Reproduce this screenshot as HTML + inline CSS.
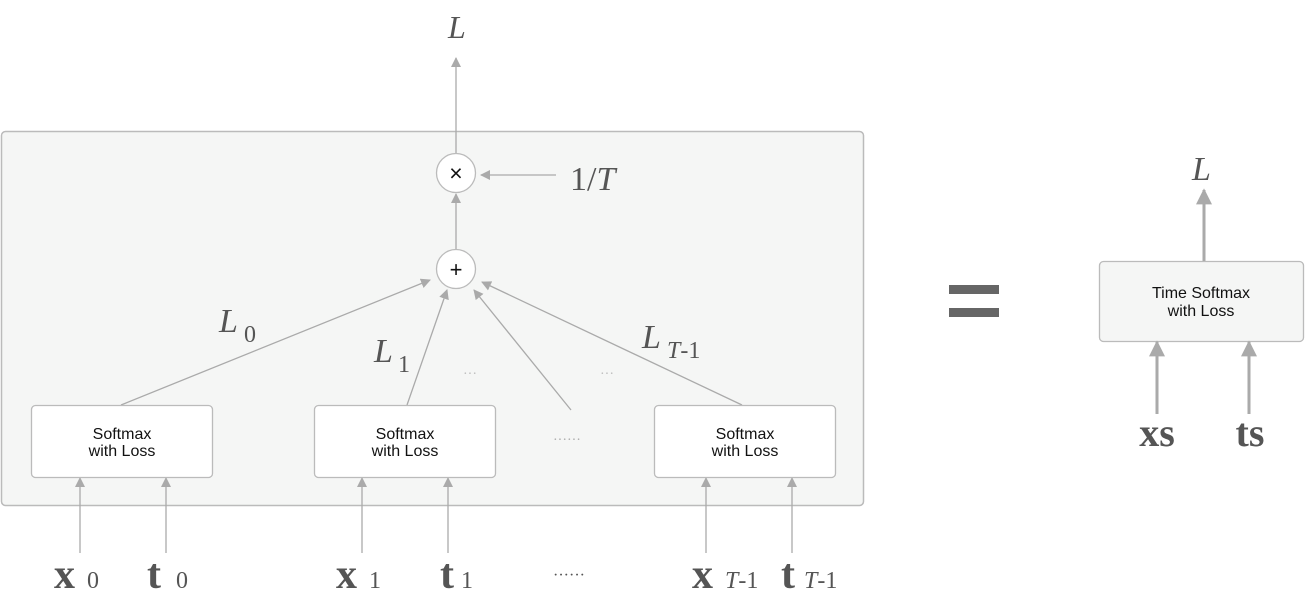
<!DOCTYPE html>
<html><head><style>
body{margin:0;background:#fff;width:1312px;height:598px;overflow:hidden}
svg text{font-family:"Liberation Serif",serif;fill:#555}
.s{font-family:"Liberation Sans",sans-serif;fill:#111;font-size:16px}
</style></head><body>
<svg width="1312" height="598" viewBox="0 0 1312 598">
<defs>
<marker id="a" viewBox="0 0 10 10" refX="9" refY="5" markerWidth="10" markerHeight="10" markerUnits="userSpaceOnUse" orient="auto"><path d="M0,0L10,5L0,10z" fill="#aaa"/></marker>
<marker id="b" viewBox="0 0 10 10" refX="9" refY="5" markerWidth="18" markerHeight="16" markerUnits="userSpaceOnUse" orient="auto"><path d="M0,0L10,5L0,10z" fill="#aaa"/></marker>
</defs>
<rect x="1.5" y="131.5" width="862" height="374" rx="4" fill="#f5f6f5" stroke="#bbb" stroke-width="1.5"/>
<g stroke="#aaa" stroke-width="1.3" fill="none" marker-end="url(#a)">
<line x1="456" y1="154" x2="456" y2="58"/>
<line x1="556" y1="175" x2="481" y2="175"/>
<line x1="456" y1="250" x2="456" y2="194"/>
<line x1="121" y1="405" x2="430" y2="280"/>
<line x1="407" y1="405" x2="447" y2="290"/>
<line x1="571" y1="410" x2="474" y2="290"/>
<line x1="742" y1="405" x2="482" y2="282"/>
<line x1="80" y1="553" x2="80" y2="478"/>
<line x1="166" y1="553" x2="166" y2="478"/>
<line x1="362" y1="553" x2="362" y2="478"/>
<line x1="448" y1="553" x2="448" y2="478"/>
<line x1="706" y1="553" x2="706" y2="478"/>
<line x1="792" y1="553" x2="792" y2="478"/>
</g>
<circle cx="456" cy="173" r="19.5" fill="#fff" stroke="#bbb" stroke-width="1.3"/>
<circle cx="456" cy="269" r="19.5" fill="#fff" stroke="#bbb" stroke-width="1.3"/>
<text x="456" y="181" text-anchor="middle" class="s" style="font-size:23px">×</text>
<text x="456" y="277" text-anchor="middle" class="s" style="font-size:22px">+</text>
<text x="570" y="190" style="font-size:34px">1/<tspan font-style="italic">T</tspan></text>
<text x="448" y="38" font-style="italic" style="font-size:32px">L</text>
<text x="219" y="332" font-style="italic" style="font-size:34px">L</text><text x="244" y="342" style="font-size:24px">0</text>
<text x="374" y="362" font-style="italic" style="font-size:34px">L</text><text x="398" y="372" style="font-size:24px">1</text>
<text x="642" y="348" font-style="italic" style="font-size:34px">L</text><text x="667" y="358" style="font-size:24px"><tspan font-style="italic">T</tspan>-1</text>
<text x="463" y="378" style="font-size:14px;fill:#bbb">···</text>
<text x="600" y="378" style="font-size:14px;fill:#bbb">···</text>
<text x="553" y="444" style="font-size:14px;fill:#aaa">······</text>
<text x="553" y="580" style="font-size:16px;fill:#555">······</text>
<g fill="#fff" stroke="#bbb" stroke-width="1.3">
<rect x="31.5" y="405.5" width="181" height="72" rx="4"/>
<rect x="314.5" y="405.5" width="181" height="72" rx="4"/>
<rect x="654.5" y="405.5" width="181" height="72" rx="4"/>
</g>
<g text-anchor="middle">
<text class="s" x="122" y="439">Softmax</text><text class="s" x="122" y="456">with Loss</text>
<text class="s" x="405" y="439">Softmax</text><text class="s" x="405" y="456">with Loss</text>
<text class="s" x="745" y="439">Softmax</text><text class="s" x="745" y="456">with Loss</text>
</g>
<g font-weight="bold" style="font-size:42px">
<text x="54" y="588">x</text><text x="87" y="588" font-weight="normal" style="font-size:24px">0</text>
<text x="154" y="588" text-anchor="middle">t</text><text x="176" y="588" font-weight="normal" style="font-size:24px">0</text>
<text x="336" y="588">x</text><text x="369" y="588" font-weight="normal" style="font-size:24px">1</text>
<text x="447" y="588" text-anchor="middle">t</text><text x="461" y="588" font-weight="normal" style="font-size:24px">1</text>
<text x="692" y="588">x</text><text x="725" y="588" font-weight="normal" style="font-size:24px"><tspan font-style="italic">T</tspan>-1</text>
<text x="788" y="588" text-anchor="middle">t</text><text x="804" y="588" font-weight="normal" style="font-size:24px"><tspan font-style="italic">T</tspan>-1</text>
</g>
<rect x="949" y="285" width="50" height="9" fill="#666"/>
<rect x="949" y="308" width="50" height="9" fill="#666"/>
<rect x="1099.5" y="261.5" width="204" height="80" rx="4" fill="#f5f6f5" stroke="#bbb" stroke-width="1.3"/>
<text class="s" x="1201" y="298" text-anchor="middle">Time Softmax</text>
<text class="s" x="1201" y="316" text-anchor="middle">with Loss</text>
<g stroke="#aaa" stroke-width="3" marker-end="url(#b)">
<line x1="1204" y1="261" x2="1204" y2="190"/>
<line x1="1157" y1="414" x2="1157" y2="342"/>
<line x1="1249" y1="414" x2="1249" y2="342"/>
</g>
<text x="1192" y="180" font-style="italic" style="font-size:34px">L</text>
<text x="1157" y="446" text-anchor="middle" font-weight="bold" style="font-size:40px">xs</text>
<text x="1250" y="446" text-anchor="middle" font-weight="bold" style="font-size:40px">ts</text>
</svg>
</body></html>
